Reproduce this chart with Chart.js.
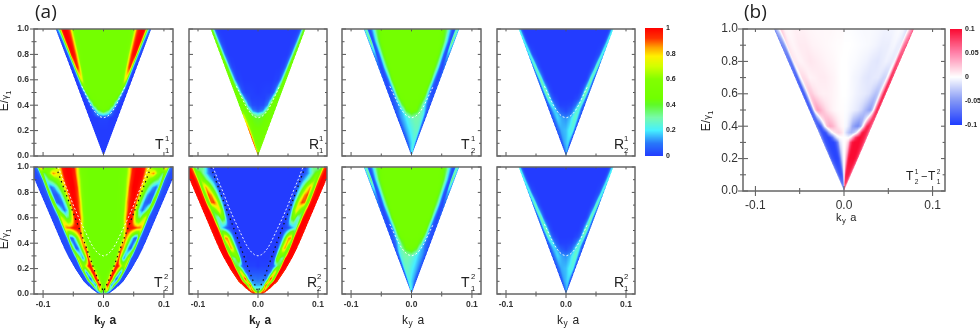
<!DOCTYPE html>
<html>
<head>
<meta charset="utf-8">
<script src="https://cdn.jsdelivr.net/npm/chart.js@4"></script>
<style>
  html, body { margin: 0; padding: 0; background: #fff; }
  #page { position: relative; width: 980px; height: 329px; overflow: hidden; font-family: "Liberation Sans", sans-serif; color: #222; }
  #page canvas { position: absolute; left: 0; top: 0; }
  .t { position: absolute; white-space: nowrap; line-height: 1; }
</style>
</head>
<body>
<div id="page"></div>
<script>
// values are in percent of the colour scale (panel b: percent of 0.1)
const levelsTop = [0, .1, .2, .3, .33, .35, .37, .4, .45, .5, .6, .7, .8, .9, 1];
const stopsTop = [0, .3, .5, .6, .65, .7, .75, .8, .85, .88, .91, .94, .97, 1];
const edgeTopE = [0, 1];
const edgeTopK = [0, .079];

const T11_rows = [
  [0,0,0,0,0,0,0,0,0,0,0,0,0,0],
  [0,0,0,0,0,0,0,0,0,0,0,0,0,0],
  [0,0,0,0,0,0,0,0,0,0,0,0,0,0],
  [1,1,0,0,0,0,0,0,0,0,0,0,0,0],
  [25,18,8,4,2,1,1,0,0,0,0,0,0,0],
  [45,30,10,4,2,1,1,0,0,0,0,0,0,0],
  [47,45,22,8,4,2,1,0,0,0,0,0,0,0],
  [48,47,42,22,10,5,2,1,0,0,0,0,0,0],
  [48,48,47,45,40,22,8,3,2,1,0,0,0,0],
  [48,48,48,48,49,50,35,12,4,2,1,0,0,0],
  [48,48,48,48,50,60,75,68,25,8,3,1,0,0],
  [48,48,48,48,52,75,90,95,70,25,6,2,1,0],
  [48,48,48,50,60,82,95,100,95,60,20,5,2,1],
  [48,48,48,50,62,85,97,100,100,85,45,12,3,2],
  [48,48,48,50,65,88,97,100,100,95,70,25,10,5]
];
const R11_left = [
  [72,72,75,78,80,82,84,86,88,90,90,90,90,90],
  [50,52,55,60,64,68,72,78,84,88,90,92,92,92],
  [46,46,47,50,54,58,62,68,74,80,85,88,88,85],
  [40,42,45,46,47,49,52,56,62,66,70,74,72,70],
  [22,32,44,46,47,48,50,54,58,62,65,68,66,62],
  [8,15,38,45,46,47,48,50,52,55,58,60,58,55],
  [4,8,25,42,46,47,47,48,50,50,52,52,52,50],
  [2,3,12,30,42,45,46,46,47,47,47,47,46,46],
  [1,1,5,12,20,35,44,46,46,46,46,46,46,46],
  [0,1,1,3,5,12,22,38,46,46,46,46,46,46],
  [0,0,0,1,1,1,4,12,25,38,45,47,47,46],
  [0,0,0,0,0,1,1,4,12,25,38,46,47,46],
  [0,0,0,0,0,0,0,1,5,12,25,40,46,45],
  [0,0,0,0,0,0,0,1,2,6,15,32,44,46],
  [0,0,0,0,0,0,0,0,1,2,8,25,42,46]
];
const R11_right = [
  [72,70,68,66,64,62,60,58,56,55,54,54,54,54],
  [50,50,50,50,50,52,54,56,58,60,60,60,60,60],
  [46,46,46,46,46,47,48,48,50,50,52,52,52,50],
  [40,42,45,46,46,46,47,47,48,48,48,48,48,46],
  [22,32,44,46,46,46,46,46,47,47,47,47,46,46],
  [8,15,38,45,46,46,46,46,46,46,46,46,46,46],
  [4,8,25,42,46,46,46,46,46,46,46,46,46,46],
  [2,3,12,30,42,45,46,46,46,46,46,46,46,46],
  [1,1,5,12,20,35,44,46,46,46,46,46,46,46],
  [0,1,1,3,5,12,22,38,46,46,46,46,46,46],
  [0,0,0,1,1,1,4,12,25,38,45,47,47,46],
  [0,0,0,0,0,1,1,4,12,25,38,46,47,46],
  [0,0,0,0,0,0,0,1,5,12,25,40,46,45],
  [0,0,0,0,0,0,0,1,2,6,15,32,44,46],
  [0,0,0,0,0,0,0,0,1,2,8,25,42,46]
];
const T12_left = [
  [20,18,14,12,11,10,9,8,7,6,6,5,5,4],
  [18,15,12,10,9,8,7,6,5,5,4,3,3,3],
  [22,18,15,13,12,11,10,8,7,6,5,4,3,3],
  [27,22,17,15,14,13,12,10,8,7,5,4,3,3],
  [40,30,18,15,14,13,12,10,8,7,5,4,3,3],
  [46,38,20,15,14,13,11,9,7,6,5,4,3,3],
  [47,44,24,16,14,12,10,8,7,6,5,4,3,3],
  [48,47,36,20,15,12,9,7,6,5,4,4,3,3],
  [48,48,46,35,26,18,11,7,5,4,4,3,3,4],
  [48,48,48,44,34,22,13,7,4,3,3,3,4,5],
  [48,48,48,48,46,38,24,12,5,3,2,3,5,6],
  [48,48,48,48,47,42,34,22,8,3,2,3,8,8],
  [48,48,48,48,48,46,38,24,8,3,4,15,15,10],
  [48,48,48,48,48,46,40,26,12,3,5,38,25,10],
  [48,48,48,48,46,42,34,20,8,3,4,25,28,12]
];
const T12_right = [
  [20,22,22,20,19,18,17,15,13,12,10,9,7,6],
  [18,23,22,20,19,18,15,12,9,8,6,5,4,3],
  [22,26,27,27,26,23,20,16,11,8,7,6,5,3],
  [27,30,29,27,26,25,22,18,12,9,7,5,4,3],
  [40,34,30,27,26,25,22,18,12,9,7,5,4,3],
  [46,42,32,28,26,24,20,16,11,8,6,5,4,3],
  [47,46,34,28,26,23,18,14,10,7,5,4,3,3],
  [48,47,38,26,24,20,15,11,8,6,5,4,3,3],
  [48,48,46,37,30,22,14,9,6,5,4,4,4,4],
  [48,48,48,44,34,22,13,7,4,3,3,3,4,5],
  [48,48,48,48,46,38,24,12,5,3,2,3,5,6],
  [48,48,48,48,47,42,34,22,8,3,2,3,8,8],
  [48,48,48,48,48,46,38,24,8,3,4,15,15,10],
  [48,48,48,48,48,46,40,26,12,3,5,38,25,10],
  [48,48,48,48,46,42,34,20,8,3,4,25,28,12]
];
const R12_left = [
  [10,10,9,8,7,6,6,5,5,4,4,3,3,3],
  [16,14,12,10,8,7,6,5,4,4,3,3,3,2],
  [16,15,14,12,11,10,9,8,7,6,5,4,3,3],
  [12,14,17,18,17,15,13,11,9,8,6,5,4,3],
  [6,9,16,18,17,16,14,12,10,8,6,5,4,3],
  [3,6,13,17,17,17,15,13,10,8,6,5,4,3],
  [2,4,10,16,18,18,17,14,11,9,7,5,4,3],
  [1,1,6,12,17,20,22,18,14,10,8,6,5,4],
  [0,0,2,4,8,14,22,27,24,18,12,8,6,5],
  [0,0,0,2,4,9,18,28,30,25,18,12,8,6],
  [0,0,0,0,0,1,4,12,25,30,26,15,8,5],
  [0,0,0,0,0,0,1,3,8,18,28,28,15,8],
  [0,0,0,0,0,0,0,1,2,4,12,22,22,12],
  [0,0,0,0,0,0,0,0,0,1,3,12,22,18],
  [0,0,0,0,0,0,0,0,0,0,1,6,18,22]
];
const R12_right = [
  [12,13,12,11,10,9,8,7,6,5,5,4,4,3],
  [16,18,17,15,12,10,8,6,5,4,4,3,3,2],
  [16,20,22,23,23,22,20,16,12,9,7,5,4,3],
  [12,16,23,26,26,25,22,18,13,10,8,6,4,3],
  [6,10,20,26,26,25,22,18,13,10,8,6,4,3],
  [3,7,16,24,25,25,23,18,13,10,8,6,4,3],
  [2,5,14,22,24,25,23,18,12,9,7,5,4,3],
  [1,2,8,16,20,25,27,22,15,10,8,6,5,4],
  [0,0,2,4,8,14,22,27,24,18,12,8,6,5],
  [0,0,0,2,4,9,18,28,30,25,18,12,8,6],
  [0,0,0,0,0,1,4,12,25,30,26,15,8,5],
  [0,0,0,0,0,0,1,3,8,18,28,28,15,8],
  [0,0,0,0,0,0,0,1,2,4,12,22,22,12],
  [0,0,0,0,0,0,0,0,0,1,3,12,22,18],
  [0,0,0,0,0,0,0,0,0,0,1,6,18,22]
];

const levels22 = [0, .03, .07, .12, .17, .22, .28, .36, .44, .52, .6, .66, .72, .78, .84, .9, .95, 1];
const stops22 = [0, .1, .2, .3, .35, .4, .45, .5, .55, .6, .65, .7, .75, .8, .83, .86, .89, .93, 1];
const edge22E = [0, .02, .05, .1, .2, .3, .4, .5, .6, .7, .8, .9, 1];
const edge22K = [.008, .014, .022, .033, .047, .059, .069, .078, .087, .096, .105, .114, .124];

const T22_rows = [
  [20,20,20,18,17,16,15,14,13,12,10,9,8,7,6,5,4,3,3],
  [45,48,60,75,80,75,60,45,35,22,15,40,10,5,4,3,3,3,3],
  [45,55,92,95,80,45,20,10,18,30,45,65,20,5,3,3,3,3,2],
  [45,47,60,92,98,88,60,40,15,5,15,40,60,15,4,3,3,3,2],
  [45,45,48,75,95,100,90,70,50,30,12,20,65,20,4,3,3,3,2],
  [45,45,45,50,65,92,98,95,85,70,55,60,72,20,4,3,3,3,2],
  [45,45,45,46,52,75,95,60,25,12,30,55,72,15,4,3,3,3,2],
  [45,45,45,45,47,65,92,85,55,25,8,5,30,50,8,4,3,3,2],
  [45,45,45,45,45,47,65,90,75,50,25,8,5,52,15,4,3,3,2],
  [45,45,45,45,47,55,78,95,98,98,95,90,88,80,35,6,3,3,2],
  [45,45,45,46,50,72,94,100,96,70,40,35,60,72,55,8,3,3,2],
  [45,45,45,46,52,78,95,100,88,50,18,8,20,42,60,25,4,3,2],
  [45,45,45,47,58,85,97,100,90,55,28,8,5,10,50,48,5,3,2],
  [45,45,45,48,62,88,98,100,95,65,38,15,5,6,30,60,8,3,2],
  [45,45,45,48,66,92,100,100,97,72,48,30,15,8,18,60,8,3,2],
  [45,45,45,50,70,93,100,100,98,78,62,50,42,35,22,58,8,3,2],
  [45,45,45,50,72,95,100,100,98,75,78,88,62,42,35,60,10,3,2],
  [45,45,45,50,78,97,100,100,95,72,62,45,40,62,90,70,12,3,2]
];
const R22_rows = [
  [80,82,85,90,92,94,95,95,96,96,97,97,97,97,97,97,97,97,97],
  [30,30,32,40,48,52,65,75,85,92,90,60,85,98,100,98,95,92,90],
  [14,14,15,16,20,45,80,92,85,60,50,45,92,100,100,98,96,95,90],
  [8,9,9,9,9,12,25,50,85,95,80,50,45,92,100,100,98,96,92],
  [4,4,4,4,4,5,8,15,35,62,82,65,42,92,100,100,100,98,95],
  [0,1,1,1,2,2,3,5,10,20,35,40,40,90,100,100,100,100,97],
  [0,0,0,0,1,1,1,10,50,60,38,30,35,92,100,100,100,100,97],
  [0,0,0,0,0,0,0,3,22,55,80,85,50,45,95,100,100,100,98],
  [0,0,0,0,0,0,0,1,8,30,60,85,88,45,92,100,100,100,97],
  [0,0,0,0,0,0,0,0,1,2,5,12,20,32,80,100,100,100,97],
  [0,0,0,0,0,0,0,0,2,12,45,50,25,32,45,95,100,100,98],
  [0,0,0,0,0,0,0,0,1,12,55,80,60,42,42,80,100,100,98],
  [0,0,0,0,0,0,0,0,1,12,42,78,92,88,55,50,95,100,98],
  [0,0,0,0,0,0,0,0,0,5,30,60,85,92,65,42,92,100,98],
  [0,0,0,0,0,0,0,0,0,3,18,40,65,85,72,42,92,100,98],
  [0,0,0,0,0,0,0,0,0,2,10,20,35,50,62,45,90,100,98],
  [0,0,0,0,0,0,0,0,0,1,4,12,25,42,50,45,88,100,98],
  [0,0,0,0,0,0,0,0,0,0,2,20,35,30,25,45,88,100,98]
];

const levelsB = [0, .05, .1, .2, .3, .33, .36, .4, .5, .6, .7, .8, .9, 1];
const stopsB = [0, .05, .1, .2, .3, .4, .5, .6, .7, .75, .8, .85, .9, .95, 1];
const B_left = [
  [0,-10,-30,-40,-40,-38,-35,-30,-28,-25,-22,-20,-15,-12,-8],
  [0,-15,-35,-60,-70,-70,-70,-70,-65,-60,-55,-50,-40,-30,-20],
  [0,-8,-30,-70,-85,-85,-85,-85,-80,-75,-70,-65,-55,-45,-30],
  [0,-5,-15,-40,-75,-92,-95,-95,-92,-90,-88,-85,-78,-65,-45],
  [0,-2,-5,-15,-60,-85,-95,-95,-95,-92,-90,-88,-80,-65,-45],
  [0,0,0,-2,-10,-35,-70,-90,-95,-92,-90,-88,-80,-65,-45],
  [5,8,12,18,15,8,-8,-40,-80,-90,-90,-88,-80,-65,-45],
  [2,3,4,10,20,30,35,25,-10,-40,-70,-85,-85,-70,-50],
  [1,1,1,2,4,8,14,24,35,38,28,5,-55,-85,-60],
  [0,0,1,3,5,6,6,8,14,20,22,10,-40,-85,-65],
  [0,0,1,4,6,8,8,6,5,10,14,14,-10,-80,-65],
  [0,0,1,3,4,6,8,10,7,5,5,8,8,-70,-60],
  [0,1,1,2,3,4,5,8,8,6,4,6,12,-50,-60],
  [2,2,2,3,3,3,4,6,6,4,3,5,22,-20,-55]
];
const B_right = [
  [0,10,30,45,45,42,40,35,30,28,25,22,18,14,10],
  [0,15,40,70,80,80,80,78,72,65,60,55,45,35,22],
  [0,8,35,80,92,92,92,92,88,82,78,72,62,50,35],
  [0,5,18,50,90,100,100,100,100,98,95,92,85,72,50],
  [0,2,5,20,70,95,100,100,100,98,95,92,85,72,50],
  [0,0,0,-2,10,45,80,95,100,98,95,92,85,72,50],
  [-5,-10,-18,-30,-35,-25,-5,35,85,95,95,92,85,72,50],
  [-2,-3,-5,-18,-40,-50,-55,-40,15,50,78,90,88,72,50],
  [-1,-1,-2,-5,-8,-12,-20,-32,-42,-45,-30,5,60,90,65],
  [0,0,-1,-3,-6,-8,-10,-14,-25,-30,-28,-5,45,90,70],
  [0,0,-1,-4,-6,-10,-12,-10,-10,-15,-20,-18,15,85,70],
  [0,0,-1,-2,-4,-6,-10,-12,-8,-6,-8,-10,-5,75,65],
  [0,0,0,-1,-2,-3,-5,-8,-8,-5,-4,-8,-8,55,70],
  [-1,-1,-1,-2,-3,-3,-4,-6,-5,-3,-2,-4,-15,30,65]
];

// dashed and dotted guide curves
const whiteE = [1, .9, .8, .7, .6, .5, .4, .36, .33, .31, .3, .31, .33, .36, .4, .5, .6, .7, .8, .9, 1];
const whiteK = [-.075, -.067, -.058, -.05, -.041, -.031, -.021, -.016, -.011, -.006, 0, .006, .011, .016, .021, .031, .041, .05, .058, .067, .075];
const whiteShortE = [.55, .5, .4, .36, .33, .31, .3, .31, .33, .36, .4, .5, .55];
const whiteShortK = [-.036, -.031, -.021, -.016, -.011, -.006, 0, .006, .011, .016, .021, .031, .036];
const blackE = [1, .8, .6, .4, .2, .1, .02, .1, .2, .4, .6, .8, 1];
const blackK = [-.0785, -.063, -.047, -.031, -.016, -.008, 0, .008, .016, .031, .047, .063, .0785];

// colour scales: position, r, g, b
const jetStops = [
  [0, 35, 60, 255], [.1, 40, 120, 250], [.2, 70, 240, 255], [.3, 120, 250, 170], [.4, 95, 250, 40],
  [.45, 112, 255, 0], [.6, 130, 255, 0], [.7, 210, 255, 0], [.78, 255, 240, 0], [.85, 255, 160, 0],
  [.92, 255, 50, 0], [1, 255, 0, 0]
];
const diffStops = [
  [-1, 30, 60, 255], [-.5, 130, 150, 245], [0, 255, 255, 255], [.5, 255, 130, 170], [1, 250, 10, 50]
];

const xMajor = [-.1, 0, .1];
const xMinor = [-.05, .05];
const yMajor = [0, .2, .4, .6, .8, 1];
const yMinor = [.1, .3, .5, .7, .9];
const cbarTicks = [0, .2, .4, .6, .8, 1];
const cbarLabels = ['0', '0.2', '0.4', '0.6', '0.8', '1'];
const cbarBTicks = [-.1, -.05, 0, .05, .1];
const cbarBLabels = ['-0.1', '-0.05', '0', '0.05', '0.1'];

const W = 980, H = 329;
const page = document.getElementById('page');

function colorAt(table, v) {
  if (v <= table[0][0]) return table[0];
  for (let i = 1; i < table.length; i++) {
    if (v <= table[i][0]) {
      const a = table[i - 1], b = table[i];
      const f = (v - a[0]) / (b[0] - a[0]);
      return [v, a[1] + f * (b[1] - a[1]), a[2] + f * (b[2] - a[2]), a[3] + f * (b[3] - a[3])];
    }
  }
  return table[table.length - 1];
}

function findCell(list, v) {
  let i = 0;
  while (i < list.length - 2 && v > list[i + 1]) i++;
  const f = Math.min(1, Math.max(0, (v - list[i]) / (list[i + 1] - list[i])));
  return [i, f];
}

function edgeAt(p, E) {
  const [i, f] = findCell(p.edgeE, E);
  return p.edgeK[i] + f * (p.edgeK[i + 1] - p.edgeK[i]);
}

// shades the panel like a smoothed image, pixel positions come from the scales
const heatPlugin = {
  id: 'heat',
  beforeDraw(chart, args, opts) {
    const p = opts.panel;
    if (!p) return;
    const xs = chart.scales.x, ys = chart.scales.y, area = chart.chartArea;
    const ss = 2;
    const w = Math.round(area.right - area.left), h = Math.round(area.bottom - area.top);
    const off = document.createElement('canvas');
    off.width = w * ss; off.height = h * ss;
    const octx = off.getContext('2d');
    const img = octx.createImageData(off.width, off.height);
    for (let j = 0; j < off.height; j++) {
      const E = ys.getValueForPixel(area.top + (j + .5) / ss);
      const edge = edgeAt(p, E);
      const [li, lf] = findCell(p.levels, E);
      for (let i = 0; i < off.width; i++) {
        const k = xs.getValueForPixel(area.left + (i + .5) / ss);
        const s = Math.abs(k) / edge;
        if (s > 1) continue;
        const rows = k < 0 ? p.left : p.right;
        const [si, sf] = findCell(p.stops, s);
        const lo = rows[li][si] + sf * (rows[li][si + 1] - rows[li][si]);
        const hi = rows[li + 1][si] + sf * (rows[li + 1][si + 1] - rows[li + 1][si]);
        const c = colorAt(p.cmap, (lo + lf * (hi - lo)) / 100);
        const n = (j * off.width + i) * 4;
        img.data[n] = c[1]; img.data[n + 1] = c[2]; img.data[n + 2] = c[3]; img.data[n + 3] = 255;
      }
    }
    octx.putImageData(img, 0, 0);
    chart.ctx.save();
    chart.ctx.beginPath();
    chart.ctx.rect(area.left, area.top, w, h);
    chart.ctx.clip();
    chart.ctx.filter = 'blur(0.5px)';
    chart.ctx.drawImage(off, area.left, area.top, w, h);
    chart.ctx.restore();
  },
  afterDraw(chart, args, opts) {
    const p = opts.panel;
    if (!p) return;
    const ctx = chart.ctx, area = chart.chartArea, xs = chart.scales.x, ys = chart.scales.y;
    ctx.save();
    ctx.strokeStyle = '#555';
    ctx.lineWidth = 1;
    const tick = (x1, y1, x2, y2) => { ctx.beginPath(); ctx.moveTo(x1, y1); ctx.lineTo(x2, y2); ctx.stroke(); };
    const big = p.big ? 5 : 4, small = p.big ? 3 : 2.5;
    const drawX = (v, len) => {
      const x = xs.getPixelForValue(v);
      tick(x, area.bottom - len, x, area.bottom + (p.xLabels ? len : 0));
      tick(x, area.top, x, area.top + len * .6);
    };
    const drawY = (v, len) => {
      const y = ys.getPixelForValue(v);
      tick(area.left - (p.yLabels ? len : 0), y, area.left + len, y);
      tick(area.right - len * .8, y, area.right, y);
    };
    xMajor.forEach(v => drawX(v, big));
    xMinor.forEach(v => drawX(v, small));
    yMajor.forEach(v => drawY(v, big));
    yMinor.forEach(v => drawY(v, small));
    ctx.strokeStyle = '#666';
    ctx.lineWidth = 1.5;
    ctx.strokeRect(area.left, area.top, area.right - area.left, area.bottom - area.top);
    ctx.restore();
  }
};

const cbarPlugin = {
  id: 'cbar',
  beforeDraw(chart, args, opts) {
    if (!opts.cmap) return;
    const ctx = chart.ctx, area = chart.chartArea, ys = chart.scales.y;
    for (let py = Math.floor(area.top); py < area.bottom; py++) {
      const c = colorAt(opts.cmap, ys.getValueForPixel(py + .5) / opts.unit);
      ctx.fillStyle = 'rgb(' + c[1] + ',' + c[2] + ',' + c[3] + ')';
      ctx.fillRect(area.left, py, area.right - area.left, 1);
    }
  }
};

function newCanvas() {
  const c = document.createElement('canvas');
  c.width = W; c.height = H;
  c.style.width = W + 'px'; c.style.height = H + 'px';
  page.appendChild(c);
  return c.getContext('2d');
}

function pointsFrom(ks, es) {
  return ks.map((k, i) => ({ x: k, y: es[i] }));
}

function drawPanel(p) {
  const fontSize = p.big ? 12 : 8.5;
  const datasets = [];
  if (p.whiteE) {
    datasets.push({ data: pointsFrom(p.whiteK, p.whiteE), showLine: true, pointRadius: 0, borderColor: 'rgba(255,255,255,0.9)', borderWidth: 1, borderDash: [2, 2] });
  }
  if (p.black) {
    datasets.push({ data: pointsFrom(blackK, blackE), showLine: true, pointRadius: 0, borderColor: '#111', borderWidth: 1.2, borderDash: [1.5, 3.5] });
  }
  new Chart(newCanvas(), {
    type: 'scatter',
    data: { datasets: datasets },
    plugins: [heatPlugin],
    options: {
      responsive: false,
      animation: false,
      events: [],
      layout: { padding: { left: 0, top: p.rect[1], right: W - p.rect[2], bottom: 0 } },
      plugins: { legend: { display: false }, tooltip: { enabled: false }, heat: { panel: p } },
      scales: {
        x: {
          type: 'linear', min: -p.xMax, max: p.xMax,
          grid: { display: false, drawTicks: false }, border: { display: false },
          afterBuildTicks: s => { s.ticks = xMajor.map(v => ({ value: v })); },
          afterFit: s => { s.height = H - p.rect[3]; },
          ticks: { display: !!p.xLabels, maxRotation: 0, autoSkip: false, padding: p.big ? 7 : 6, color: '#333', font: { size: fontSize, family: 'Liberation Sans', weight: p.big ? 'normal' : 'bold' }, callback: v => v === 0 ? '0.0' : String(v) }
        },
        y: {
          type: 'linear', min: 0, max: 1,
          grid: { display: false, drawTicks: false }, border: { display: false },
          afterBuildTicks: s => { s.ticks = yMajor.map(v => ({ value: v })); },
          afterFit: s => { s.width = p.rect[0]; },
          ticks: { display: !!p.yLabels, autoSkip: false, padding: 5, color: '#333', font: { size: fontSize, family: 'Liberation Sans', weight: p.big ? 'normal' : 'bold' }, callback: v => v.toFixed(1) }
        }
      }
    }
  });
}

function drawCbar(rect, cmap, unit, min, max, ticks, labels) {
  new Chart(newCanvas(), {
    type: 'scatter',
    data: { datasets: [] },
    plugins: [cbarPlugin],
    options: {
      responsive: false,
      animation: false,
      events: [],
      layout: { padding: { left: rect[0], top: rect[1], right: 0, bottom: H - rect[3] } },
      plugins: { legend: { display: false }, tooltip: { enabled: false }, cbar: { cmap: cmap, unit: unit } },
      scales: {
        x: { display: false, min: 0, max: 1 },
        y: {
          type: 'linear', position: 'right', min: min, max: max,
          grid: { display: false, drawTicks: false }, border: { display: false },
          afterBuildTicks: s => { s.ticks = ticks.map(v => ({ value: v })); },
          afterFit: s => { s.width = W - rect[2]; },
          ticks: { autoSkip: false, padding: 3, color: '#222', font: { size: 7, family: 'Liberation Sans', weight: 'bold' }, callback: (v, i) => labels[i] }
        }
      }
    }
  });
}

function text(str, x, y, size, extra) {
  const s = document.createElement('span');
  s.className = 't';
  s.textContent = str;
  s.style.left = x + 'px';
  s.style.top = y + 'px';
  s.style.fontSize = size + 'px';
  if (extra) Object.assign(s.style, extra);
  page.appendChild(s);
  return s;
}

function tag(letter, up, down, x, y, size) {
  text(letter, x, y, size);
  text(up, x + size * .72, y - size * .12, size * .55);
  text(down, x + size * .72, y + size * .72, size * .55);
}

function kLabel(x, y, size, weight) {
  const extra = { fontWeight: weight };
  text('k', x, y, size, extra);
  text('y', x + size * .55, y + size * .45, size * .7, extra);
  text('a', x + size * 1.3, y, size, extra);
}

function eLabel(cx, cy, size) {
  const s = document.createElement('span');
  s.className = 't';
  s.style.left = cx + 'px';
  s.style.top = cy + 'px';
  s.style.fontSize = size + 'px';
  s.style.transform = 'translate(-50%,-50%) rotate(-90deg)';
  s.innerHTML = 'E/<span style="font-size:' + (size * .7) + 'px;font-family:\'DejaVu Sans\'">γ</span><sub style="font-size:' + (size * .6) + 'px">1</sub>';
  page.appendChild(s);
}

const rowTop = [29, 156], rowBottom = [167, 294];
const topCommon = { levels: levelsTop, stops: stopsTop, edgeE: edgeTopE, edgeK: edgeTopK, cmap: jetStops, xMax: .115, whiteE: whiteShortE, whiteK: whiteShortK };
const lowCommon = { levels: levels22, stops: stops22, edgeE: edge22E, edgeK: edge22K, cmap: jetStops, xMax: .115, whiteE: whiteE, whiteK: whiteK, black: true, xLabels: true };

const panels = [
  { ...topCommon, rect: [34, rowTop[0], 173, rowTop[1]], left: T11_rows, right: T11_rows, yLabels: true },
  { ...topCommon, rect: [189, rowTop[0], 327, rowTop[1]], left: R11_left, right: R11_right },
  { ...topCommon, rect: [342, rowTop[0], 481, rowTop[1]], left: T12_left, right: T12_right },
  { ...topCommon, rect: [497, rowTop[0], 635, rowTop[1]], left: R12_left, right: R12_right },
  { ...lowCommon, rect: [34, rowBottom[0], 173, rowBottom[1]], left: T22_rows, right: T22_rows, yLabels: true },
  { ...lowCommon, rect: [189, rowBottom[0], 327, rowBottom[1]], left: R22_rows, right: R22_rows },
  { ...topCommon, rect: [342, rowBottom[0], 481, rowBottom[1]], left: T12_right, right: T12_left, xLabels: true },
  { ...topCommon, rect: [497, rowBottom[0], 635, rowBottom[1]], left: R12_left, right: R12_right, xLabels: true },
  { levels: levelsB, stops: stopsB, edgeE: edgeTopE, edgeK: edgeTopK, cmap: diffStops, xMax: .114, rect: [743, 29, 945, 191], left: B_left, right: B_right, xLabels: true, yLabels: true, big: true }
];
panels.forEach(drawPanel);

drawCbar([645, 28, 663, 156], jetStops, 1, 0, 1, cbarTicks, cbarLabels);
drawCbar([950, 29, 962, 125], diffStops, .1, -.1, .1, cbarBTicks, cbarBLabels);

text('(a)', 35, 2, 19, { fontFamily: 'Open Sans' });
text('(b)', 744, 2, 19, { fontFamily: 'Open Sans' });

eLabel(5, 101, 12);
eLabel(5, 239, 12);
eLabel(707, 121, 12);

kLabel(94, 314, 12, 'bold');
kLabel(249, 314, 12, 'bold');
kLabel(402, 314, 12, 'normal');
kLabel(557, 314, 12, 'normal');
kLabel(836, 212, 11, 'normal');

tag('T', '1', '1', 155, 137, 14);
tag('R', '1', '1', 309, 137, 14);
tag('T', '1', '2', 461, 137, 14);
tag('R', '1', '2', 614, 137, 14);
tag('T', '2', '2', 154, 275, 14);
tag('R', '2', '2', 307, 275, 14);
tag('T', '2', '1', 461, 275, 14);
tag('R', '2', '1', 614, 275, 14);
tag('T', '1', '2', 906, 170, 12);
text('−', 921, 171, 11);
tag('T', '2', '1', 928, 170, 12);
</script>
</body>
</html>
